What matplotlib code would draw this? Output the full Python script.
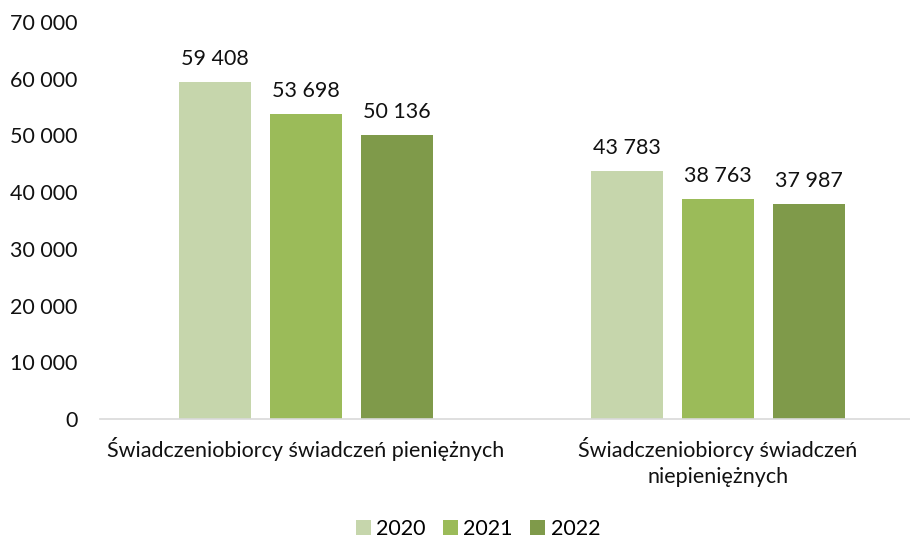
import matplotlib
matplotlib.use("Agg")
import matplotlib.pyplot as plt
import numpy as np

plt.rcParams['font.family'] = ['Lato', 'DejaVu Sans']

# Data
categories = ["Świadczeniobiorcy świadczeń pieniężnych",
              "Świadczeniobiorcy świadczeń\nniepieniężnych"]
years = ["2020", "2021", "2022"]
values = {
    "2020": [59408, 43783],
    "2021": [53698, 38763],
    "2022": [50136, 37987],
}
colors = ["#C6D6AC", "#9BBB59", "#7F9A4A"]
yticks = [0, 10000, 20000, 30000, 40000, 50000, 60000, 70000]


def fmt(v):
    return f"{v:,}".replace(",", " ")


fig = plt.figure(figsize=(9.10, 5.41), dpi=100)
ax = fig.add_axes([100 / 910, 1 - 419 / 541, 810 / 910, (419 - 22) / 541])

x = np.arange(len(categories))
width = 0.175
step = 0.221
for i, (yr, c) in enumerate(zip(years, colors)):
    pos = x + (i - 1) * step
    bars = ax.bar(pos, values[yr], width, color=c, label=yr, zorder=2)
    for b, v in zip(bars, values[yr]):
        ax.text(b.get_x() + b.get_width() / 2, v + 2300, fmt(v),
                ha="center", va="bottom", fontsize=15.5, color="#111111")

ax.set_xlim(-0.5, 1.466)
ax.set_ylim(0, 70000)
ax.set_yticks(yticks)
ax.set_yticklabels([fmt(t) for t in yticks], fontsize=15.5, color="#111111")
ax.set_xticks(x)
ax.set_xticklabels(categories, fontsize=15.5, color="#111111", linespacing=1.35)
ax.tick_params(axis="both", length=0)
ax.tick_params(axis="y", pad=16)
ax.tick_params(axis="x", pad=13)

for s in ["top", "right", "left"]:
    ax.spines[s].set_visible(False)
ax.spines["bottom"].set_color("#D9D9D9")
ax.spines["bottom"].set_linewidth(1.2)

handles, labels = ax.get_legend_handles_labels()
fig.legend(handles, labels, loc="center", bbox_to_anchor=(478 / 910, 1 - 529 / 541),
           ncol=3, frameon=False, fontsize=15.5, handlelength=0.7, handleheight=0.7,
           handletextpad=0.25, columnspacing=0.8, borderpad=0)

fig.savefig("out.png", dpi=100)
